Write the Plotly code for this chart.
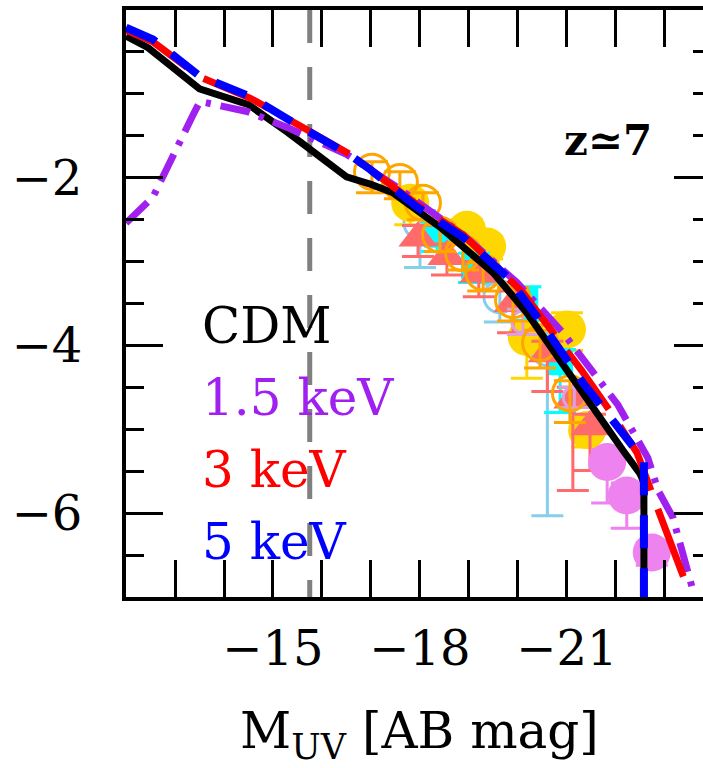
import plotly.graph_objects as go

# ---------------- model curves ----------------
cdm_x = [-12.0, -12.45, -13.5, -14.5, -15.3, -16.5, -17.0, -17.45, -18.41, -19.49, -20.18, -20.92, -21.47, -22.14, -22.49, -22.57, -22.57]
cdm_y = [-0.31, -0.45, -0.94, -1.13, -1.46, -1.99, -2.08, -2.18, -2.59, -3.13, -3.61, -4.21, -4.69, -5.25, -5.53, -5.64, -7.5]

wdm15_x = [-12.0, -12.55, -13.37, -13.51, -14.47, -15.29, -16.5, -17.5, -18.88, -19.98, -20.92, -21.67, -22.04, -22.33, -22.65, -22.86, -23.16, -23.57]
wdm15_y = [-2.54, -2.23, -1.25, -1.09, -1.21, -1.40, -1.72, -2.10, -2.68, -3.25, -3.85, -4.41, -4.71, -5.01, -5.34, -5.73, -6.05, -6.92]

wdm3_x = [-12.0, -12.55, -13.51, -14.53, -15.55, -16.57, -17.94, -18.88, -20.1, -20.6, -21.3, -21.9, -22.43, -22.84, -23.45]
wdm3_y = [-0.24, -0.38, -0.80, -1.05, -1.38, -1.72, -2.32, -2.68, -3.37, -3.75, -4.30, -4.80, -5.28, -5.93, -6.87]

wdm5_x = [-12.0, -12.55, -13.51, -13.98, -14.53, -15.55, -16.57, -16.98, -17.94, -18.88, -19.78, -20.39, -21.33, -21.82, -22.49, -22.57, -22.57]
wdm5_y = [-0.21, -0.35, -0.79, -0.89, -1.03, -1.39, -1.73, -1.90, -2.35, -2.71, -3.18, -3.66, -4.45, -4.81, -5.29, -5.37, -7.5]

limit_x = [-15.75, -15.75]
limit_y = [0.0, -7.0]

# ---------------- observational data ----------------
gold_x = [-17.80, -18.96, -19.37, -20.18, -21.00, -21.41]
gold_y = [-2.30, -2.62, -2.82, -3.90, -3.81, -5.01]
gold_ep = [0.12, 0.12, 0.12, 0.15, 0.20, 0.15]
gold_em = [0.26, 0.15, 0.15, 0.49, 0.25, 0.20]

orange_x = [-17.02, -17.59, -18.06, -18.41, -18.88, -19.29, -19.90, -20.45, -21.06]
orange_y = [-1.93, -2.05, -2.30, -2.68, -2.90, -3.13, -3.46, -3.97, -4.57]
orange_ep = [0.12, 0.12, 0.12, 0.12, 0.12, 0.12, 0.15, 0.15, 0.15]
orange_em = [0.25, 0.2, 0.2, 0.2, 0.2, 0.22, 0.25, 0.3, 0.35]

sky_x = [-18.0, -19.63, -20.6]
sky_y = [-2.54, -3.42, -4.05]
sky_ep = [0.15, 0.15, 0.2]
sky_em = [0.53, 0.3, 1.98]

cyan_x = [-18.35, -19.1, -20.15, -20.86]
cyan_y = [-2.68, -3.05, -3.45, -4.20]
cyan_ep = [0.15, 0.15, 0.15, 0.15]
cyan_em = [0.2, 0.2, 0.25, 0.6]

salmon_x = [-17.96, -18.55, -19.2, -19.9, -20.6, -21.12, -21.47]
salmon_y = [-2.72, -2.94, -3.15, -3.50, -4.10, -4.65, -4.97]
salmon_ep = [0.15, 0.15, 0.15, 0.15, 0.15, 0.15, 0.15]
salmon_em = [0.22, 0.22, 0.27, 0.35, 0.45, 1.08, 0.52]

plum_x = [-20.1, -21.15]
plum_y = [-3.72, -4.62]
plum_ep = [0.15, 0.12]
plum_em = [0.15, 0.12]

violet_x = [-21.82, -22.22, -22.73]
violet_y = [-5.39, -5.79, -6.47]
violet_ep = [0.15, 0.15, 0.12]
violet_em = [0.49, 0.39, 0.15]

x_major = [-15, -18, -21]
x_major_text = ["\u221215", "\u221218", "\u221221"]
x_minor = [-13, -14, -16, -17, -19, -20, -22, -23]
y_major = [-2, -4, -6]
y_major_text = ["\u22122", "\u22124", "\u22126"]
y_minor = [-0.5, -1, -1.5, -2.5, -3, -3.5, -4.5, -5, -5.5, -6.5]

FONT = "DejaVu Serif"

fig = go.Figure()


def data_trace(x, y, ep, em, color, symbol, size, lw=3):
    return go.Scatter(
        x=x, y=y, mode="markers", showlegend=False,
        marker=dict(symbol=symbol, size=size, color=color,
                    line=dict(color=color, width=lw)),
        error_y=dict(type="data", array=ep, arrayminus=em, color=color,
                     thickness=3, width=16, visible=True),
    )


fig.add_trace(data_trace(sky_x, sky_y, sky_ep, sky_em, "#87CEEB", "circle-open", 32))
fig.add_trace(data_trace(gold_x, gold_y, gold_ep, gold_em, "#FFD700", "circle", 38, 0))
fig.add_trace(data_trace(cyan_x, cyan_y, cyan_ep, cyan_em, "#00FFFF", "square", 26, 0))
fig.add_trace(data_trace(salmon_x, salmon_y, salmon_ep, salmon_em, "#FF6A6A", "triangle-up", 34, 0))
fig.add_trace(data_trace(plum_x, plum_y, plum_ep, plum_em, "#DDA0DD", "circle-open", 22))
fig.add_trace(data_trace(orange_x, orange_y, orange_ep, orange_em, "#FFA500", "circle-open", 35))
fig.add_trace(data_trace(violet_x, violet_y, violet_ep, violet_em, "#EE82EE", "circle", 38, 0))

fig.add_trace(go.Scatter(x=limit_x, y=limit_y, mode="lines", showlegend=False,
                         line=dict(color="#808080", width=5, dash="33px,24px")))
fig.add_trace(go.Scatter(x=cdm_x, y=cdm_y, mode="lines", showlegend=False,
                         line=dict(color="black", width=7)))
fig.add_trace(go.Scatter(x=wdm15_x, y=wdm15_y, mode="lines", showlegend=False,
                         line=dict(color="#A020F0", width=7, dash="30px,10px,5px,10px")))
fig.add_trace(go.Scatter(x=wdm3_x, y=wdm3_y, mode="lines", showlegend=False,
                         line=dict(color="#FF0000", width=7, dash="72px,20px")))
fig.add_trace(go.Scatter(x=wdm5_x, y=wdm5_y, mode="lines", showlegend=False,
                         line=dict(color="#0000FF", width=8, dash="33px,20px")))
# dummy trace to activate the right-hand tick axis
fig.add_trace(go.Scatter(x=[None], y=[None], yaxis="y2", showlegend=False, hoverinfo="skip"))

fig.update_layout(
    width=703, height=768,
    margin=dict(l=126, r=0, t=10, b=171),
    plot_bgcolor="white", paper_bgcolor="white",
    showlegend=False,
    xaxis=dict(
        range=[-12, -23.776], showline=True, linecolor="black", linewidth=4,
        mirror="allticks", ticks="inside", ticklen=37, tickwidth=3, tickcolor="black",
        tickmode="array", tickvals=x_major, ticktext=x_major_text,
        tickfont=dict(family=FONT, size=48, color="black"), ticklabelstandoff=6,
        minor=dict(tickmode="array", tickvals=x_minor, ticks="inside", ticklen=18,
                   tickwidth=3, tickcolor="black", showgrid=False),
        showgrid=False, zeroline=False,
    ),
    yaxis=dict(
        range=[-7, 0], showline=True, linecolor="black", linewidth=4, mirror=False,
        ticks="inside", ticklen=37, tickwidth=3, tickcolor="black",
        tickmode="array", tickvals=y_major, ticktext=y_major_text,
        tickfont=dict(family=FONT, size=48, color="black"), ticklabelstandoff=30,
        minor=dict(tickmode="array", tickvals=y_minor, ticks="inside", ticklen=18,
                   tickwidth=3, tickcolor="black", showgrid=False),
        showgrid=False, zeroline=False,
    ),
    yaxis2=dict(
        range=[-7, 0], overlaying="y", side="right", showline=False,
        ticks="inside", ticklen=29, tickwidth=3, tickcolor="black",
        tickmode="array", tickvals=y_major, showticklabels=False,
        minor=dict(tickmode="array", tickvals=y_minor, ticks="inside", ticklen=10,
                   tickwidth=3, tickcolor="black", showgrid=False),
        showgrid=False, zeroline=False,
    ),
)

legend_items = [("CDM", "black", 0.4617), ("1.5 keV", "#A020F0", 0.339),
                ("3 keV", "#FF0000", 0.2164), ("5 keV", "#0000FF", 0.0937)]
for txt, col, yy in legend_items:
    fig.add_annotation(x=0.128, y=yy, xref="paper", yref="paper", text=txt,
                       showarrow=False, xanchor="left", yanchor="middle",
                       font=dict(family=FONT, size=50, color=col))

fig.add_annotation(x=0.835, y=0.7785, xref="paper", yref="paper", text="<b>z\u22437</b>",
                   showarrow=False, xanchor="center", yanchor="middle",
                   font=dict(family=FONT, size=42, color="black"))

fig.add_annotation(x=0.5095, y=-0.235, xref="paper", yref="paper",
                   text="M<sub>UV</sub> [AB mag]", showarrow=False,
                   xanchor="center", yanchor="middle",
                   font=dict(family=FONT, size=50, color="black"))

fig.write_html("out.html")
